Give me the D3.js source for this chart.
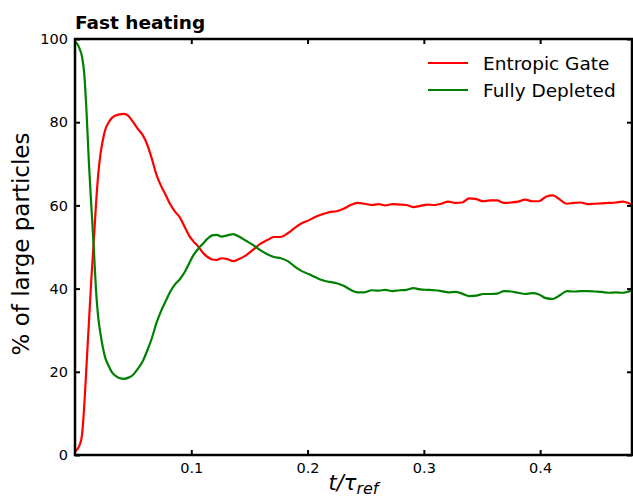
<!DOCTYPE html>
<html>
<head>
<meta charset="utf-8">
<script src="https://cdn.jsdelivr.net/npm/d3@7"></script>
<style>
  html, body { margin: 0; padding: 0; background: #fff; }
  svg { display: block; font-family: "DejaVu Sans", sans-serif; }
</style>
</head>
<body>
<svg id="chart" width="633" height="502"></svg>
<script>
// ---- data ----
const times = [0.000, 0.002, 0.004, 0.006, 0.008, 0.010, 0.012, 0.014, 0.016, 0.018,
  0.020, 0.022, 0.024, 0.026, 0.029, 0.032, 0.035, 0.038, 0.042, 0.046,
  0.050, 0.054, 0.058, 0.062, 0.066, 0.070, 0.074, 0.078, 0.082, 0.086,
  0.090, 0.094, 0.098, 0.102, 0.106, 0.110, 0.114, 0.118, 0.122, 0.126,
  0.131, 0.136, 0.141, 0.147, 0.153, 0.159, 0.165, 0.171, 0.177, 0.183,
  0.189, 0.195, 0.201, 0.207, 0.213, 0.219, 0.225, 0.231, 0.237, 0.243,
  0.249, 0.255, 0.261, 0.267, 0.273, 0.279, 0.285, 0.291, 0.297, 0.303,
  0.309, 0.315, 0.321, 0.327, 0.333, 0.339, 0.345, 0.351, 0.357, 0.363,
  0.369, 0.375, 0.381, 0.387, 0.393, 0.399, 0.405, 0.411, 0.417, 0.423,
  0.429, 0.435, 0.441, 0.447, 0.453, 0.459, 0.465, 0.471, 0.478];

const entropicGate = [0.8, 1.4, 2.4, 4.8, 12, 22, 32, 42, 50.6, 60,
  67.5, 72.5, 75.8, 78.2, 80, 81.1, 81.6, 81.9, 82, 81.5,
  80, 78.4, 77, 74.7, 71.3, 67.4, 64.7, 62.5, 60.2, 58.5,
  57.2, 55, 52.8, 51.3, 50.1, 48.6, 47.6, 47, 46.9, 47.3,
  47.1, 46.6, 47.1, 48, 49.3, 50.7, 51.6, 52.4, 52.4, 53.3,
  54.6, 55.7, 56.4, 57.3, 57.9, 58.4, 58.6, 59.2, 60.1, 60.6,
  60.4, 60.1, 60.3, 60.0, 60.3, 60.2, 60.1, 59.6, 59.9, 60.2,
  60.1, 60.4, 60.9, 60.6, 60.7, 61.7, 61.5, 61.0, 61.2, 61.2,
  60.6, 60.7, 60.9, 61.4, 61.0, 61.0, 62.1, 62.4, 61.4, 60.4,
  60.6, 60.7, 60.3, 60.4, 60.5, 60.6, 60.7, 60.9, 60.3];

const fullyDepleted = [99.3, 98.8, 97.6, 95.8, 91.5, 82, 70, 60, 50.6, 40,
  33, 29, 25.8, 23.4, 21.4, 19.8, 19, 18.5, 18.3, 18.6,
  19.3, 20.7, 22.4, 25, 28, 31.7, 34.6, 37, 39.3, 41,
  42.2, 43.8, 46, 48.1, 49.6, 50.8, 52, 52.8, 52.9, 52.5,
  52.8, 53.1, 52.5, 51.5, 50.5, 49.3, 48.3, 47.6, 47.3, 46.6,
  45.3, 44.2, 43.5, 42.7, 42.0, 41.6, 41.3, 40.7, 39.7, 39.1,
  39.1, 39.6, 39.5, 39.7, 39.4, 39.6, 39.7, 40.1, 39.8, 39.7,
  39.6, 39.4, 39.1, 39.2, 38.8, 38.2, 38.3, 38.7, 38.7, 38.8,
  39.4, 39.3, 39.0, 38.7, 38.9, 38.6, 37.7, 37.5, 38.4, 39.4,
  39.3, 39.4, 39.4, 39.3, 39.2, 39.0, 39.1, 39.0, 39.5];

const seriesNames = ["Entropic Gate", "Fully Depleted"];
const seriesColors = ["#ff0000", "#008000"];
const xTicks = [0.1, 0.2, 0.3, 0.4];
const yTicks = [0, 20, 40, 60, 80, 100];
const titleText = "Fast heating";
const yLabelText = "% of large particles";

// ---- layout ----
const svg = d3.select("#chart");
const L = 75, R = 632, T = 39, B = 455;
const x = d3.scaleLinear().domain([0, 0.479]).range([L, R]);
const y = d3.scaleLinear().domain([0, 100]).range([B, T]);

svg.append("defs").append("clipPath").attr("id", "clip")
  .append("rect").attr("x", L).attr("y", T).attr("width", R - L).attr("height", B - T);

// lines
const series = [entropicGate, fullyDepleted];
const line = d3.line()
  .x((d, i) => x(times[i]))
  .y(d => y(d))
  .curve(d3.curveMonotoneX);

const gLines = svg.append("g").attr("clip-path", "url(#clip)");
series.forEach((vals, k) => {
  gLines.append("path")
    .datum(vals)
    .attr("fill", "none")
    .attr("stroke", seriesColors[k])
    .attr("stroke-width", 2.2)
    .attr("stroke-linejoin", "round")
    .attr("d", line);
});

// axes (ticks inward)
const tickLen = 5;
const fmtX = d3.format(".1f");
const axB = d3.axisBottom(x).tickValues(xTicks).tickSize(-tickLen).tickPadding(8).tickFormat(fmtX);
const axT = d3.axisTop(x).tickValues(xTicks).tickSize(-tickLen).tickFormat("");
const axL = d3.axisLeft(y).tickValues(yTicks).tickSize(-tickLen).tickPadding(7).tickFormat(d3.format("d"));
const axR = d3.axisRight(y).tickValues(yTicks).tickSize(-tickLen).tickFormat("");

function styleAxis(g) {
  g.select(".domain").remove();
  g.selectAll(".tick line").attr("stroke", "#000").attr("stroke-width", 2);
  g.selectAll(".tick text").attr("fill", "#000").style("font-size", "14.5px")
    .style("font-family", "'DejaVu Sans', sans-serif");
}
svg.append("g").attr("transform", `translate(0,${B})`).call(axB).call(styleAxis);
svg.append("g").attr("transform", `translate(0,${T})`).call(axT).call(styleAxis);
svg.append("g").attr("transform", `translate(${L},0)`).call(axL).call(styleAxis);
svg.append("g").attr("transform", `translate(${R},0)`).call(axR).call(styleAxis);

// frame
svg.append("rect")
  .attr("x", L).attr("y", T).attr("width", R - L).attr("height", B - T)
  .attr("fill", "none").attr("stroke", "#000").attr("stroke-width", 2.5);

// title
svg.append("text").attr("x", L).attr("y", 29)
  .style("font-size", "18.5px").style("font-weight", "bold")
  .text(titleText);

// y label
svg.append("text")
  .attr("transform", `translate(29,${(T + B) / 2 - 3}) rotate(-90)`)
  .attr("text-anchor", "middle")
  .style("font-size", "23px")
  .text(yLabelText);

// x label t/τ_ref
const xl = svg.append("text")
  .attr("x", (L + R) / 2).attr("y", 490)
  .attr("text-anchor", "middle")
  .style("font-size", "21px").style("font-style", "italic");
xl.append("tspan").text("t/τ");
xl.append("tspan").attr("dy", 4).style("font-size", "16px").text("ref");

// legend
const leg = svg.append("g");
seriesNames.forEach((name, k) => {
  const ly = 63 + k * 27;
  leg.append("line").attr("x1", 428).attr("x2", 468).attr("y1", ly).attr("y2", ly)
    .attr("stroke", seriesColors[k]).attr("stroke-width", 2.2);
  leg.append("text").attr("x", 483).attr("y", ly + 6.5)
    .style("font-size", "18.5px").text(name);
});
</script>
</body>
</html>
